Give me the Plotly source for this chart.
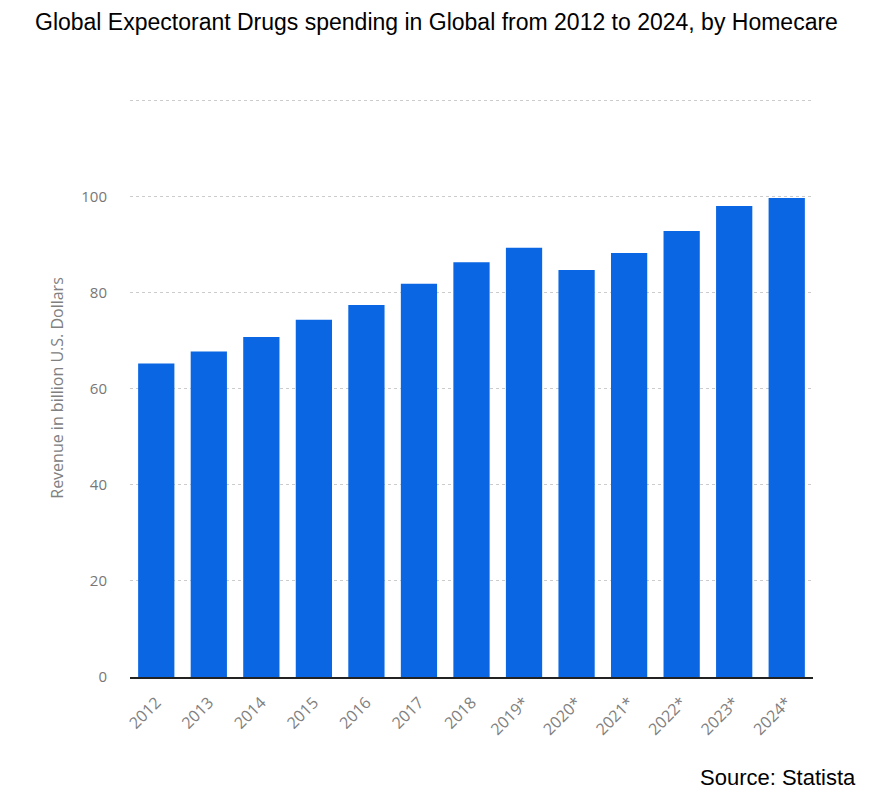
import plotly.graph_objects as go

# Revenue in billion U.S. dollars
years = ['2012', '2013', '2014', '2015', '2016', '2017', '2018',
         '2019*', '2020*', '2021*', '2022*', '2023*', '2024*']
revenue = [65.3, 67.8, 70.8, 74.4, 77.5, 81.9, 86.4,
           89.4, 84.8, 88.3, 92.9, 98.1, 99.8]
y_ticks = [0, 20, 40, 60, 80, 100, 120]
y_labels = ['0', '20', '40', '60', '80', '100', '']

title = 'Global Expectorant Drugs spending in Global from 2012 to 2024, by Homecare'

fig = go.Figure()
fig.add_trace(go.Bar(x=years, y=revenue, marker=dict(color='#0a66e2', line=dict(width=0))))

# the page body adds an 8px offset, so margins are shifted to compensate
fig.update_layout(
    width=888, height=803,
    margin=dict(l=122, r=83, t=91, b=134),
    paper_bgcolor='white', plot_bgcolor='white',
    bargap=0.31,
    showlegend=False,
    font=dict(family='Open Sans', color='#777777', size=15),
    title=dict(text=title, x=0.4825, xanchor='center', y=0.9826, yanchor='middle',
               font=dict(family='Liberation Sans', size=23, color='black')),
    xaxis=dict(tickangle=-45, showgrid=False, showline=True, linecolor='#222222', linewidth=2,
               ticks='', ticklabelstandoff=8, tickfont=dict(size=16, color='#808080')),
    yaxis=dict(range=[0, 120.4], tickvals=y_ticks, ticktext=y_labels, showgrid=True,
               gridcolor='#cccccc', griddash='dot', gridwidth=1, zeroline=False,
               ticks='', ticklabelstandoff=22, tickfont=dict(size=15, color='#777777'),
               title=dict(text='Revenue in billion U.S. Dollars', standoff=13,
                          font=dict(size=16, color='#808080'))),
)

fig.add_annotation(text='Source: Statista', xref='paper', yref='paper', x=1.066, y=-0.1747,
                   xanchor='right', yanchor='middle', showarrow=False,
                   font=dict(family='Liberation Sans', size=22, color='black'))

fig.write_html('out.html')
